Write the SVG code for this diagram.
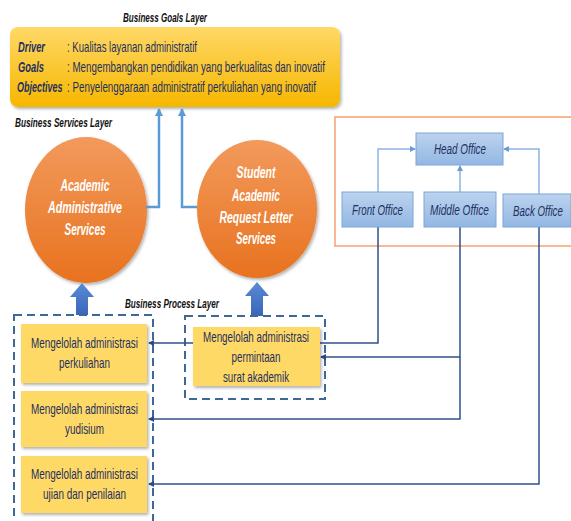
<svg xmlns="http://www.w3.org/2000/svg" width="571" height="521" viewBox="0 0 571 521">
  <defs>
    <linearGradient id="goalFill" x1="0" y1="0" x2="0" y2="1">
      <stop offset="0" stop-color="#FFD866"/>
      <stop offset="1" stop-color="#F6B700"/>
    </linearGradient>
    <linearGradient id="circleFill" x1="0" y1="0" x2="0" y2="1">
      <stop offset="0" stop-color="#F29A5C"/>
      <stop offset="1" stop-color="#E8721F"/>
    </linearGradient>
    <linearGradient id="officeFill" x1="0" y1="0" x2="0" y2="1">
      <stop offset="0" stop-color="#BCD3EE"/>
      <stop offset="1" stop-color="#93B7E3"/>
    </linearGradient>
    <linearGradient id="blockArrow" x1="0" y1="0" x2="0" y2="1">
      <stop offset="0" stop-color="#5A8AD6"/>
      <stop offset="1" stop-color="#3A66B8"/>
    </linearGradient>
    <filter id="shadow" x="-10%" y="-10%" width="125%" height="130%">
      <feDropShadow dx="1.5" dy="2" stdDeviation="1.5" flood-color="#000" flood-opacity="0.3"/>
    </filter>
    <marker id="arrLight" markerWidth="8" markerHeight="8" refX="7" refY="4" orient="auto" markerUnits="userSpaceOnUse">
      <path d="M0,0 L8,4 L0,8 z" fill="#5B9BD5"/>
    </marker>
    <marker id="arrOffice" markerWidth="6" markerHeight="6" refX="5" refY="3" orient="auto" markerUnits="userSpaceOnUse">
      <path d="M0,0 L6,3 L0,6 z" fill="#6A9BD8"/>
    </marker>
    <marker id="arrNavy" markerWidth="6" markerHeight="6" refX="5" refY="3" orient="auto" markerUnits="userSpaceOnUse">
      <path d="M0,0 L6,3 L0,6 z" fill="#2F4A80"/>
    </marker>
  </defs>
  <style>
    .t { font-family: "Liberation Sans", Arial, sans-serif; }
    .layer { font-size: 13.5px; font-weight: bold; font-style: italic; fill: #111; }
    .goalKey { font-size: 15px; font-weight: bold; font-style: italic; fill: #1F3060; }
    .goalVal { font-size: 15px; fill: #1F3060; }
    .circ { font-size: 16.5px; font-weight: bold; font-style: italic; fill: #FFFFFF; text-anchor: middle; }
    .proc { font-size: 15px; fill: #1F3060; text-anchor: middle; }
    .office { font-size: 15px; font-style: italic; fill: #1F3060; text-anchor: middle; }
    .procBox { fill: #FFD966; filter: url(#shadow); }
    .officeBox { fill: url(#officeFill); stroke: #7DA6D8; stroke-width: 1; }
    .dash { fill: none; stroke: #3E6896; stroke-width: 2; stroke-dasharray: 8 5; }
    .goalLink { fill: none; stroke: #5B9BD5; stroke-width: 2.5; }
    .officeLink { fill: none; stroke: #8DB3E2; stroke-width: 1.5; }
    .procLink { fill: none; stroke: #33508A; stroke-width: 1.5; }
  </style>

  <!-- Business goals layer -->
  <g id="goals">
    <text class="t layer" x="123" y="22" textLength="84" lengthAdjust="spacingAndGlyphs">Business Goals Layer</text>
    <rect x="10" y="27" width="330" height="80" rx="8" fill="url(#goalFill)" filter="url(#shadow)"/>
    <text class="t goalKey" x="18" y="52" textLength="27" lengthAdjust="spacingAndGlyphs">Driver</text>
    <text class="t goalVal" x="67" y="52" textLength="130" lengthAdjust="spacingAndGlyphs">: Kualitas layanan administratif</text>
    <text class="t goalKey" x="18" y="72" textLength="26" lengthAdjust="spacingAndGlyphs">Goals</text>
    <text class="t goalVal" x="67" y="72" textLength="258" lengthAdjust="spacingAndGlyphs">: Mengembangkan pendidikan yang berkualitas dan inovatif</text>
    <!-- condensed key label -->
    <text class="t goalKey" transform="translate(17,92) scale(0.6,1)" x="0" y="0">Objectives</text>
    <text class="t goalVal" x="67" y="92" textLength="249" lengthAdjust="spacingAndGlyphs">: Penyelenggaraan administratif perkuliahan yang inovatif</text>
  </g>

  <text class="t layer" x="15" y="127" textLength="97" lengthAdjust="spacingAndGlyphs">Business Services Layer</text>

  <!-- Business services -->
  <g id="svc-academic">
    <ellipse cx="86" cy="210" rx="61" ry="73" fill="url(#circleFill)" filter="url(#shadow)"/>
    <text class="t circ" x="85" y="191" textLength="49" lengthAdjust="spacingAndGlyphs">Academic</text>
    <text class="t circ" x="85" y="213" textLength="74" lengthAdjust="spacingAndGlyphs">Administrative</text>
    <text class="t circ" x="85" y="235" textLength="41" lengthAdjust="spacingAndGlyphs">Services</text>
  </g>
  <g id="svc-request">
    <ellipse cx="257" cy="209" rx="60" ry="69" fill="url(#circleFill)" filter="url(#shadow)"/>
    <text class="t circ" x="256" y="178" textLength="39" lengthAdjust="spacingAndGlyphs">Student</text>
    <text class="t circ" x="256" y="201" textLength="48" lengthAdjust="spacingAndGlyphs">Academic</text>
    <text class="t circ" x="256" y="223" textLength="73" lengthAdjust="spacingAndGlyphs">Request Letter</text>
    <text class="t circ" x="256" y="244" textLength="40" lengthAdjust="spacingAndGlyphs">Services</text>
  </g>

  <!-- Process to service block arrows -->
  <g id="block-arrows">
    <polygon points="82,283 94,297 88,297 88,315 76,315 76,297 70,297" fill="url(#blockArrow)"/>
    <polygon points="257,282 269,296 263,296 263,316 251,316 251,296 245,296" fill="url(#blockArrow)"/>
  </g>

  <text class="t layer" x="125" y="308" textLength="94" lengthAdjust="spacingAndGlyphs">Business Process Layer</text>

  <!-- Process groups -->
  <rect class="dash" x="14" y="315" width="139" height="215"/>
  <rect class="dash" x="185" y="316" width="140" height="83"/>

  <!-- Organisation structure -->
  <rect x="335" y="117" width="245" height="129" fill="none" stroke="#F4A36E" stroke-width="1.5"/>

  <!-- Connectors -->
  <g id="connectors">
    <path class="goalLink" d="M146,207 H159 V109" marker-end="url(#arrLight)"/>
    <path class="goalLink" d="M197,207 H182 V109" marker-end="url(#arrLight)"/>
    <path class="officeLink" d="M378,192 V149 H415" marker-end="url(#arrOffice)"/>
    <path class="officeLink" d="M460,192 V166" marker-end="url(#arrOffice)"/>
    <path class="officeLink" d="M539,194 V149 H504" marker-end="url(#arrOffice)"/>
    <path class="procLink" stroke="#4A5F8C" d="M378,227 V343 H149" marker-end="url(#arrNavy)"/>
    <path class="procLink" d="M460,227 V357 H321" marker-end="url(#arrNavy)"/>
    <path class="procLink" d="M460,357 V419 H149" marker-end="url(#arrNavy)"/>
    <path class="procLink" d="M539,227 V484 H149" marker-end="url(#arrNavy)"/>
  </g>

  <!-- Business processes -->
  <g id="proc-perkuliahan">
    <rect class="procBox" x="21" y="324" width="126" height="59"/>
    <text class="t proc" x="84.5" y="348" textLength="107" lengthAdjust="spacingAndGlyphs">Mengelolah administrasi</text>
    <text class="t proc" x="84.5" y="368" textLength="51" lengthAdjust="spacingAndGlyphs">perkuliahan</text>
  </g>
  <g id="proc-yudisium">
    <rect class="procBox" x="21" y="391" width="126" height="56"/>
    <text class="t proc" x="84.5" y="414" textLength="107" lengthAdjust="spacingAndGlyphs">Mengelolah administrasi</text>
    <text class="t proc" x="84.5" y="434" textLength="39" lengthAdjust="spacingAndGlyphs">yudisium</text>
  </g>
  <g id="proc-ujian">
    <rect class="procBox" x="21" y="456" width="126" height="57"/>
    <text class="t proc" x="84.5" y="479" textLength="107" lengthAdjust="spacingAndGlyphs">Mengelolah administrasi</text>
    <text class="t proc" x="84.5" y="499" textLength="83" lengthAdjust="spacingAndGlyphs">ujian dan penilaian</text>
  </g>
  <g id="proc-surat">
    <rect class="procBox" x="193" y="327" width="127" height="59"/>
    <text class="t proc" x="256" y="342" textLength="106" lengthAdjust="spacingAndGlyphs">Mengelolah administrasi</text>
    <text class="t proc" x="256" y="362" textLength="49" lengthAdjust="spacingAndGlyphs">permintaan</text>
    <text class="t proc" x="256" y="382" textLength="66" lengthAdjust="spacingAndGlyphs">surat akademik</text>
  </g>

  <!-- Offices -->
  <g id="head-office">
    <rect class="officeBox" x="416" y="133" width="87" height="32"/>
    <text class="t office" x="460" y="154" textLength="52" lengthAdjust="spacingAndGlyphs">Head Office</text>
  </g>
  <g id="front-office">
    <rect class="officeBox" x="342" y="192" width="71" height="35"/>
    <text class="t office" x="377.5" y="215" textLength="51" lengthAdjust="spacingAndGlyphs">Front Office</text>
  </g>
  <g id="middle-office">
    <rect class="officeBox" x="424" y="192" width="72" height="35"/>
    <text class="t office" x="459.5" y="215" textLength="59" lengthAdjust="spacingAndGlyphs">Middle Office</text>
  </g>
  <g id="back-office">
    <rect class="officeBox" x="503" y="194" width="68" height="33"/>
    <!-- condensed label -->
    <text class="t office" transform="translate(538,216) scale(0.65,1)" x="0" y="0">Back Office</text>
  </g>
</svg>
